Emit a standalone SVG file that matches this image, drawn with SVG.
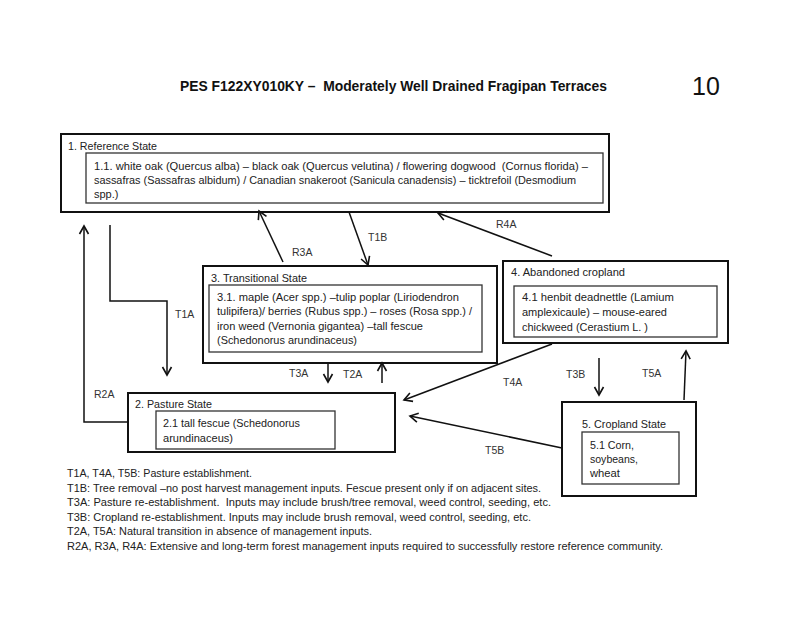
<svg xmlns="http://www.w3.org/2000/svg" width="800" height="617" viewBox="0 0 800 617">
<style>
  text { font-family: "Liberation Sans", Arial, sans-serif; font-size: 11px; fill: #222; }
  .title { font-weight: bold; font-size: 15px; fill: #111; }
  .num { font-size: 25px; fill: #111; }
  .outer { fill: #fff; stroke: #111; stroke-width: 2; }
  .inner { fill: #fff; stroke: #333; stroke-width: 1.3; }
  .conn { fill: none; stroke: #111; stroke-width: 1.5; }
  .lbl { font-size: 10.5px; fill: #333; }
</style>
<defs>
  <marker id="arr" markerUnits="userSpaceOnUse" markerWidth="12" markerHeight="12" refX="10" refY="6" orient="auto">
    <path d="M2,1.5 L10,6 L2,10.5" fill="none" stroke="#111" stroke-width="1.6"/>
  </marker>
</defs>
<rect width="800" height="617" fill="#fff"/>

<text class="title" xml:space="preserve" x="180" y="91" textLength="427" lengthAdjust="spacingAndGlyphs">PES F122XY010KY –  Moderately Well Drained Fragipan Terraces</text>
<text class="num" x="692" y="95">10</text>

<g id="node1">
  <rect class="outer" x="61" y="134" width="548" height="78"/>
  <text x="68" y="150" textLength="89" lengthAdjust="spacingAndGlyphs">1. Reference State</text>
  <rect class="inner" x="86" y="153" width="517" height="50"/>
  <text xml:space="preserve" x="94" y="170" textLength="494" lengthAdjust="spacingAndGlyphs">1.1. white oak (Quercus alba) – black oak (Quercus velutina) / flowering dogwood  (Cornus florida) –</text>
  <text x="94" y="184" textLength="482" lengthAdjust="spacingAndGlyphs">sassafras (Sassafras albidum) / Canadian snakeroot (Sanicula canadensis) – ticktrefoil (Desmodium</text>
  <text x="94" y="198">spp.)</text>
</g>

<g id="node3">
  <rect class="outer" x="203" y="266" width="294" height="97"/>
  <text x="211" y="282" textLength="96" lengthAdjust="spacingAndGlyphs">3. Transitional State</text>
  <rect class="inner" x="209" y="285" width="273" height="67"/>
  <text x="217" y="301" textLength="242" lengthAdjust="spacingAndGlyphs">3.1. maple (Acer spp.) –tulip poplar (Liriodendron</text>
  <text x="217" y="315" textLength="255" lengthAdjust="spacingAndGlyphs">tulipifera)/ berries (Rubus spp.) – roses (Rosa spp.) /</text>
  <text x="217" y="330" textLength="206" lengthAdjust="spacingAndGlyphs">iron weed (Vernonia gigantea) –tall fescue</text>
  <text x="217" y="344" textLength="140" lengthAdjust="spacingAndGlyphs">(Schedonorus arundinaceus)</text>
</g>

<g id="node4">
  <rect class="outer" x="503" y="261" width="225" height="82"/>
  <text x="511" y="276" textLength="114" lengthAdjust="spacingAndGlyphs">4. Abandoned cropland</text>
  <rect class="inner" x="514" y="286" width="203" height="51"/>
  <text x="522" y="301" textLength="152" lengthAdjust="spacingAndGlyphs">4.1 henbit deadnettle (Lamium</text>
  <text x="522" y="316" textLength="145" lengthAdjust="spacingAndGlyphs">amplexicaule) – mouse-eared</text>
  <text x="522" y="331" textLength="126" lengthAdjust="spacingAndGlyphs">chickweed (Cerastium L. )</text>
</g>

<g id="node2">
  <rect class="outer" x="128" y="393" width="267" height="59"/>
  <text x="135" y="408" textLength="77" lengthAdjust="spacingAndGlyphs">2. Pasture State</text>
  <rect class="inner" x="156" y="411" width="179" height="38"/>
  <text x="163" y="427" textLength="137" lengthAdjust="spacingAndGlyphs">2.1 tall fescue (Schedonorus</text>
  <text x="163" y="442" textLength="70" lengthAdjust="spacingAndGlyphs">arundinaceus)</text>
</g>

<g id="node5">
  <rect class="outer" x="562" y="402" width="134" height="94"/>
  <text x="582" y="428" textLength="84" lengthAdjust="spacingAndGlyphs">5. Cropland State</text>
  <rect class="inner" x="582" y="432" width="97" height="52"/>
  <text x="590" y="449" textLength="44" lengthAdjust="spacingAndGlyphs">5.1 Corn,</text>
  <text x="590" y="463" textLength="48" lengthAdjust="spacingAndGlyphs">soybeans,</text>
  <text x="590" y="477" textLength="30" lengthAdjust="spacingAndGlyphs">wheat</text>
</g>

<g id="connectors">
  <polyline class="conn" points="128,422 84,422 84,226" marker-end="url(#arr)"/>
  <polyline class="conn" points="110,225 110,301 167,301 167,375" marker-end="url(#arr)"/>
  <line class="conn" x1="283" y1="262" x2="259" y2="211" marker-end="url(#arr)"/>
  <line class="conn" x1="349" y1="212" x2="368" y2="265" marker-end="url(#arr)"/>
  <line class="conn" x1="552" y1="256" x2="438" y2="213" marker-end="url(#arr)"/>
  <line class="conn" x1="328" y1="362" x2="328" y2="382" marker-end="url(#arr)"/>
  <line class="conn" x1="382" y1="383" x2="382" y2="363" marker-end="url(#arr)"/>
  <line class="conn" x1="552" y1="344" x2="404" y2="400" marker-end="url(#arr)"/>
  <line class="conn" x1="562" y1="448" x2="410" y2="416" marker-end="url(#arr)"/>
  <line class="conn" x1="599" y1="358" x2="599" y2="395" marker-end="url(#arr)"/>
  <line class="conn" x1="684" y1="400" x2="686" y2="351" marker-end="url(#arr)"/>
  <text class="lbl" x="94" y="398">R2A</text>
  <text class="lbl" x="175" y="318">T1A</text>
  <text class="lbl" x="292" y="256">R3A</text>
  <text class="lbl" x="368" y="241">T1B</text>
  <text class="lbl" x="496" y="228">R4A</text>
  <text class="lbl" x="289" y="377">T3A</text>
  <text class="lbl" x="343" y="378">T2A</text>
  <text class="lbl" x="503" y="386">T4A</text>
  <text class="lbl" x="566" y="378">T3B</text>
  <text class="lbl" x="642" y="377">T5A</text>
  <text class="lbl" x="485" y="454">T5B</text>
</g>

<g id="legend">
  <text x="67" y="477" textLength="185" lengthAdjust="spacingAndGlyphs">T1A, T4A, T5B: Pasture establishment.</text>
  <text x="67" y="492" textLength="474" lengthAdjust="spacingAndGlyphs">T1B: Tree removal –no post harvest management inputs. Fescue present only if on adjacent sites.</text>
  <text xml:space="preserve" x="67" y="506" textLength="484" lengthAdjust="spacingAndGlyphs">T3A: Pasture re-establishment.  Inputs may include brush/tree removal, weed control, seeding, etc.</text>
  <text x="67" y="521" textLength="464" lengthAdjust="spacingAndGlyphs">T3B: Cropland re-establishment. Inputs may include brush removal, weed control, seeding, etc.</text>
  <text x="67" y="535" textLength="305" lengthAdjust="spacingAndGlyphs">T2A, T5A: Natural transition in absence of management inputs.</text>
  <text x="67" y="550" textLength="596" lengthAdjust="spacingAndGlyphs">R2A, R3A, R4A: Extensive and long-term forest management inputs required to successfully restore reference community.</text>
</g>
</svg>
